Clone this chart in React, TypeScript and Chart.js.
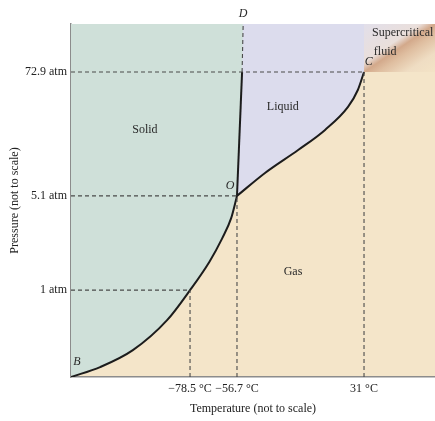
import React, { useEffect, useRef } from "react";
import { Chart, registerables } from "chart.js";

Chart.register(...registerables);

// Diagram units (axes are "not to scale"): 0..100 on both axes
const sublimationX = [0, 8.0, 17.0, 26.4, 32.7, 38.0, 41.5, 44.0, 45.6];
const sublimationY = [0, 2.8, 7.6, 16.1, 24.6, 32.6, 39.2, 45.0, 51.3];
const fusionX = [45.6, 47.0, 47.3];
const fusionY = [51.3, 86.4, 100];
const vaporX = [45.6, 53.3, 62.4, 69.8, 76.1, 78.8, 80.5];
const vaporY = [51.3, 57.8, 64.3, 70.0, 76.5, 81.3, 86.4];

const xTickValues = [32.7, 45.6, 80.5];
const xTickLabels = ["−78.5 °C", "−56.7 °C", "31 °C"];
const yTickValues = [24.6, 51.3, 86.4];
const yTickLabels = ["1 atm", "5.1 atm", "72.9 atm"];

const regionNames = ["Solid", "Liquid", "Gas"];
const regionX = [20.3, 58.2, 61.0];
const regionY = [70.0, 76.5, 29.7];

const pointNames = ["B", "O", "C", "D"];
const pointX = [1.6, 43.7, 81.8, 47.3];
const pointY = [4.2, 54.1, 89.2, 102.8];

const superLines = ["Supercritical", "fluid"];
const superX = [82.7, 83.2];
const superY = [97.6, 92.2];

const FONT = '"Liberation Serif", "Times New Roman", serif';
const SOLID = "#cfe0d9";
const LIQUID = "#dcdced";
const GAS = "#f4e5c9";
const CURVE = "#1c1c1c";
const GUIDE = "#4a4a4a";

const pts = (xs: number[], ys: number[]) => xs.map((x, i) => ({ x, y: ys[i] }));

export default function App() {
  const ref = useRef<HTMLCanvasElement | null>(null);

  useEffect(() => {
    if (!ref.current) return;

    const guideSets: any[] = [];
    xTickValues.forEach((xv, i) => {
      const yv = yTickValues[i];
      guideSets.push({
        data: [{ x: 0, y: yv }, { x: xv, y: yv }],
        borderColor: GUIDE, borderWidth: 1.1, borderDash: [4, 3], fill: false, order: 0,
      });
      guideSets.push({
        data: [{ x: xv, y: 0 }, { x: xv, y: yv }],
        borderColor: GUIDE, borderWidth: 1.1, borderDash: [4, 3], fill: false, order: 0,
      });
    });

    const bgPlugin = {
      id: "phaseBg",
      beforeDraw(chart: any) {
        const { ctx, chartArea: a, scales } = chart;
        ctx.save();
        ctx.fillStyle = GAS;
        ctx.fillRect(a.left, a.top, a.right - a.left, a.bottom - a.top);
        // supercritical region
        const cx = scales.x.getPixelForValue(xTickValues[2]);
        const cy = scales.y.getPixelForValue(yTickValues[2]);
        const sx = a.right - cx, sy = cy - a.top;
        const nx = sy, ny = sx;
        const n2 = nx * nx + ny * ny;
        const t = (sx * sy) / n2;
        const g = ctx.createLinearGradient(cx - t * nx, cy - t * ny, cx + t * nx, cy + t * ny);
        g.addColorStop(0, "#e2dfea");
        g.addColorStop(0.4, "#eadfdb");
        g.addColorStop(0.5, "#d3a98b");
        g.addColorStop(0.6, "#dfbea0");
        g.addColorStop(0.8, "#efddc3");
        g.addColorStop(1, "#f3e3c6");
        ctx.fillStyle = g;
        ctx.fillRect(cx, a.top, a.right - cx, cy - a.top);
        ctx.restore();
      },
      afterDraw(chart: any) {
        const { ctx, scales } = chart;
        const px = (v: number) => scales.x.getPixelForValue(v);
        const py = (v: number) => scales.y.getPixelForValue(v);
        ctx.save();
        ctx.fillStyle = "#2a2a2a";
        ctx.textBaseline = "middle";
        ctx.textAlign = "center";
        ctx.font = `12px ${FONT}`;
        regionNames.forEach((n, i) => ctx.fillText(n, px(regionX[i]), py(regionY[i])));
        ctx.textAlign = "left";
        superLines.forEach((n, i) => ctx.fillText(n, px(superX[i]), py(superY[i])));
        ctx.textAlign = "center";
        ctx.font = `italic 12px ${FONT}`;
        pointNames.forEach((n, i) => ctx.fillText(n, px(pointX[i]), py(pointY[i])));
        ctx.restore();
      },
    };

    const chart = new Chart(ref.current, {
      type: "line",
      data: {
        datasets: [
          ...guideSets,
          {
            data: pts(fusionX, fusionY),
            borderColor: CURVE, borderWidth: 2, fill: "end", backgroundColor: SOLID, tension: 0, order: 1,
            segment: {
              borderDash: (c: any) => (c.p0DataIndex === 1 ? [4, 3] : undefined),
              borderColor: (c: any) => (c.p0DataIndex === 1 ? GUIDE : CURVE),
              borderWidth: (c: any) => (c.p0DataIndex === 1 ? 1.1 : 2),
            },
          },
          {
            data: pts(sublimationX, sublimationY),
            borderColor: CURVE, borderWidth: 2, fill: "end", backgroundColor: SOLID,
            cubicInterpolationMode: "monotone", order: 2,
          },
          {
            data: pts(vaporX, vaporY),
            borderColor: CURVE, borderWidth: 2, fill: "end", backgroundColor: LIQUID,
            cubicInterpolationMode: "monotone", order: 3,
          },
        ] as any,
      },
      options: {
        animation: false,
        responsive: false,
        layout: { padding: { top: 24, right: 0, left: 0, bottom: 0 } },
        elements: { point: { radius: 0, hoverRadius: 0 } },
        plugins: {
          legend: { display: false },
          tooltip: { enabled: false },
          filler: { drawTime: "beforeDatasetsDraw" } as any,
        },
        scales: {
          x: {
            type: "linear", min: 0, max: 100,
            grid: { display: false, drawTicks: false },
            border: { display: true, color: "#8c8c8c", width: 1.5 },
            afterBuildTicks: (s: any) => { s.ticks = xTickValues.map((v) => ({ value: v })); },
            afterFit: (s: any) => { s.height = 44; },
            ticks: {
              autoSkip: false, maxRotation: 0, padding: 5, color: "#222",
              font: { family: FONT, size: 12 },
              callback: (v: any) => xTickLabels[xTickValues.indexOf(Number(v))] ?? "",
            },
            title: {
              display: true, text: "Temperature (not to scale)", color: "#222",
              font: { family: FONT, size: 12 }, padding: { top: 4, bottom: 5 },
            },
          },
          y: {
            type: "linear", min: 0, max: 100,
            grid: { display: false, drawTicks: false },
            border: { display: true, color: "#8c8c8c", width: 1.5 },
            afterBuildTicks: (s: any) => { s.ticks = yTickValues.map((v) => ({ value: v })); },
            afterFit: (s: any) => { s.width = 71; },
            ticks: {
              autoSkip: false, padding: 4, color: "#222",
              font: { family: FONT, size: 12 },
              callback: (v: any) => yTickLabels[yTickValues.indexOf(Number(v))] ?? "",
            },
            title: {
              display: true, text: "Pressure (not to scale)", color: "#222",
              font: { family: FONT, size: 12 }, padding: { top: 8, bottom: 4 },
            },
          },
        },
      },
      plugins: [bgPlugin],
    });

    return () => chart.destroy();
  }, []);

  return (
    <div style={{ position: "fixed", left: 0, top: 0, width: 435, height: 421, background: "#fff" }}>
      <canvas ref={ref} width={435} height={421} style={{ display: "block" }} />
    </div>
  );
}
